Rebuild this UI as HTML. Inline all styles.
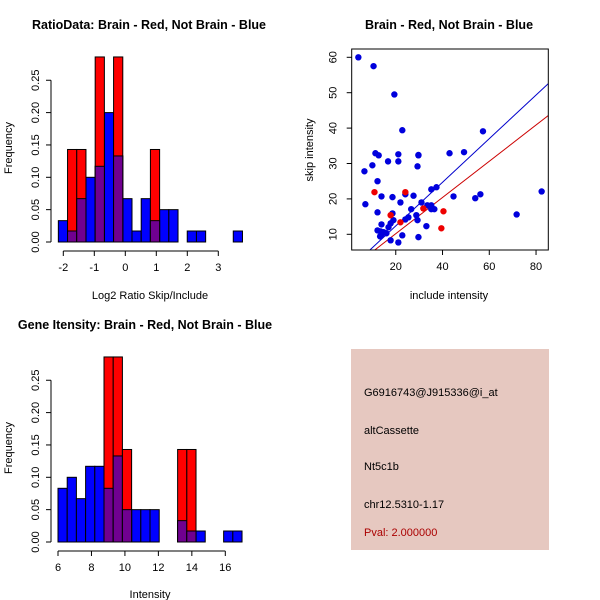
<!DOCTYPE html>
<html><head><meta charset="utf-8"><style>
body{margin:0;background:#fff}
svg{display:block;font-family:"Liberation Sans",sans-serif}
</style></head><body>
<svg id="c" width="600" height="600" xmlns="http://www.w3.org/2000/svg">
<rect width="600" height="600" fill="#fff"/>
<text x="149" y="29" font-size="12.5" font-weight="bold" text-anchor="middle">RatioData: Brain - Red, Not Brain - Blue</text>
<text x="449" y="29" font-size="12.5" font-weight="bold" text-anchor="middle">Brain - Red, Not Brain - Blue</text>
<text x="145" y="329" font-size="12.5" font-weight="bold" text-anchor="middle">Gene Itensity: Brain - Red, Not Brain - Blue</text>
<text x="150" y="299" font-size="11" text-anchor="middle">Log2 Ratio Skip/Include</text>
<text x="150" y="598" font-size="11" text-anchor="middle">Intensity</text>
<text x="449" y="299" font-size="11" text-anchor="middle">include intensity</text>
<text transform="translate(12,148) rotate(-90)" font-size="11" text-anchor="middle">Frequency</text>
<text transform="translate(12,448) rotate(-90)" font-size="11" text-anchor="middle">Frequency</text>
<text transform="translate(313,150) rotate(-90)" font-size="11" text-anchor="middle">skip intensity</text>
<g>
<rect x="351" y="349" width="198" height="201" fill="#e6c8c0"/>
<text x="364" y="396" font-size="11">G6916743@J915336@i_at</text>
<text x="364" y="434" font-size="11">altCassette</text>
<text x="364" y="470" font-size="11">Nt5c1b</text>
<text x="364" y="508" font-size="11">chr12.5310-1.17</text>
<text x="364" y="536" font-size="11" fill="#aa0000">Pval: 2.000000</text>
</g>
</svg>
<script>
const ratioBlue=[0.033,0.017,0.067,0.1,0.117,0.2,0.133,0.067,0.017,0.067,0.033,0.05,0.05,0,0.017,0.017,0,0,0,0.017];
const ratioRed=[0,0.143,0.143,0,0.286,0,0.286,0,0,0,0.143,0,0,0,0,0,0,0,0,0];
const ratioStart=-2.16, ratioWidth=0.297;
const ratioXTicks=[-2,-1,0,1,2,3];
const intBlue=[0.083,0.1,0.067,0.117,0.117,0.083,0.133,0.05,0.05,0.05,0.05,0,0,0.033,0.017,0.017,0,0,0.017,0.017];
const intRed=[0,0,0,0,0,0.286,0.286,0.143,0,0,0,0,0,0.143,0.143,0,0,0,0,0];
const intStart=6.0, intWidth=0.55;
const intXTicks=[6,8,10,12,14,16];
const freqTicks=[0,0.05,0.1,0.15,0.2,0.25];
const freqLabels=["0.00","0.05","0.10","0.15","0.20","0.25"];
const blueX=[4,10.5,19.4,22.8,11.3,12.7,21.1,29.7,29.7,43,49.2,57.3,10,6.6,16.7,21.1,29.3,12.2,7,13.9,18.6,22,24.1,27.6,31,35.2,37.4,44.7,54,56.2,71.7,82.4,12.2,13.9,16.9,17.8,19,18.6,24.1,25.4,26.6,28.8,29.3,33.5,35.2,35.2,36.5,33.1,12.2,13.5,13.9,14.8,16,13.3,17.8,21.1,22.8,29.7];
const blueY=[60,57.5,49.5,39.4,32.9,32.3,32.6,32.4,32.3,32.9,33.2,39.1,29.5,27.8,30.6,30.6,29.2,25,18.5,20.7,20.5,19,21.3,20.9,19,22.7,23.3,20.7,20.2,21.3,15.6,22.1,16.2,12.8,12,13.1,14,15.9,14.2,14.8,17.1,15.4,14,18.2,18.2,17.1,17.1,12.3,11.1,10.8,10,10.6,10.3,9.4,8.3,7.7,9.7,9.2];
const redX=[10.9,17.8,22,24.1,31.8,40.4,39.5];
const redY=[21.9,15.4,13.4,21.9,17.3,16.5,11.7];
const blueFit=[0.06,0.616];
const redFit=[-0.08,0.512];
const scXTicks=[20,40,60,80];
const scYTicks=[10,20,30,40,50,60];

const svg=document.getElementById('c');
const NS='http://www.w3.org/2000/svg';
function mk(tag,attrs,parent){const e=document.createElementNS(NS,tag);for(const k in attrs)e.setAttribute(k,attrs[k]);(parent||svg).appendChild(e);return e;}

function hist(blue,red,start,width,xTicks,xA,x0px,pxU,y0,prefix){
  const yS=v=>y0-v*647;
  const xS=v=>x0px+(v-xA)*pxU;
  const g=mk('g',{});
  
  
  for(let i=0;i<blue.length;i++){
    const xl=xS(start+i*width), w=width*pxU;
    if(blue[i]>0){const r=mk('rect',{x:xl,y:yS(blue[i]),width:w,height:blue[i]*647,fill:'#0000ff',stroke:'#000','stroke-width':1},g);
      }
  }
  for(let i=0;i<red.length;i++){
    const xl=xS(start+i*width), w=width*pxU;
    if(red[i]>0){const r=mk('rect',{x:xl,y:yS(red[i]),width:w,height:red[i]*647,fill:'#ff0000',stroke:'#000','stroke-width':1},g);
      
      const m=Math.min(red[i],blue[i]);
      if(m>0){const p=mk('rect',{x:xl,y:yS(m),width:w,height:m*647,fill:'#700090',stroke:'#000','stroke-width':1},g);
        }
    }
  }
  const ax=mk('g',{stroke:'#000','stroke-width':1,fill:'none'});
  
  mk('line',{x1:51,x2:51,y1:yS(0),y2:yS(0.25)},ax);
  freqTicks.forEach((t,i)=>{mk('line',{x1:46,x2:51,y1:yS(t),y2:yS(t)},ax);
    const tx=mk('text',{transform:`translate(39,${yS(t)}) rotate(-90)`,'font-size':11,'text-anchor':'middle',fill:'#000',stroke:'none'},svg);
    tx.textContent=freqLabels[i];});
  const xa=y0+9;
  mk('line',{x1:xS(xTicks[0]),x2:xS(xTicks[xTicks.length-1]),y1:xa,y2:xa},ax);
  xTicks.forEach(t=>{mk('line',{x1:xS(t),x2:xS(t),y1:xa,y2:xa+5},ax);
    const tx=mk('text',{x:xS(t),y:xa+20,'font-size':11,'text-anchor':'middle'});
    tx.textContent=t;});
}
hist(ratioBlue,ratioRed,ratioStart,ratioWidth,ratioXTicks,-2,63.3,31,242,'ratio');
hist(intBlue,intRed,intStart,intWidth,intXTicks,6,58,16.73,542,'intensity');

// scatter
const L=351.7,R=548.3,T=49,B=250;
const sx=v=>349+v*2.338;
const sy=v=>234.3-(v-10)*3.54;
const clip=mk('clipPath',{id:'pc'});mk('rect',{x:L,y:T,width:R-L,height:B-T},clip);
const sg=mk('g',{'clip-path':'url(#pc)'});

function fit(f,col,name){const x1=0,x2=100;const l=mk('line',{x1:sx(x1),y1:sy(f[0]+f[1]*x1),x2:sx(x2),y2:sy(f[0]+f[1]*x2),stroke:col,'stroke-width':1},sg);
  }
fit(blueFit,'#0000cc','blue-fit-line');
fit(redFit,'#cc0000','red-fit-line');
blueX.forEach((x,i)=>{const c=mk('circle',{cx:sx(x),cy:sy(blueY[i]),r:3.2,fill:'#0000dd'},sg);
  });
redX.forEach((x,i)=>{const c=mk('circle',{cx:sx(x),cy:sy(redY[i]),r:3.2,fill:'#ee0000'},sg);
  });
const box=mk('rect',{x:L,y:T,width:R-L,height:B-T,fill:'none',stroke:'#000'});

scXTicks.forEach(t=>{mk('line',{x1:sx(t),x2:sx(t),y1:B,y2:B+5,stroke:'#000'});
  const tx=mk('text',{x:sx(t),y:B+20,'font-size':11,'text-anchor':'middle'});tx.textContent=t;
  });
scYTicks.forEach(t=>{mk('line',{x1:L-5,x2:L,y1:sy(t),y2:sy(t),stroke:'#000'});
  const tx=mk('text',{transform:`translate(${L-15},${sy(t)}) rotate(-90)`,'font-size':11,'text-anchor':'middle'});tx.textContent=t;
  });
</script>
</body></html>
